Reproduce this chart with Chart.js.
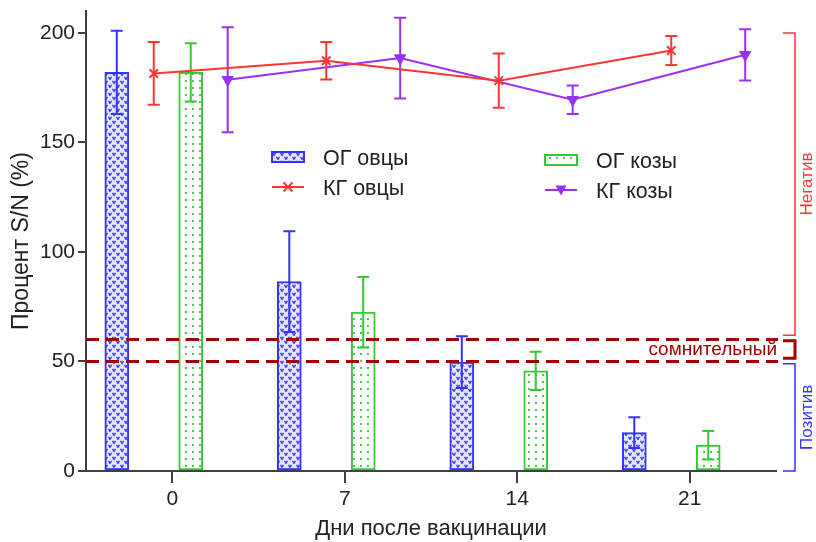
<!DOCTYPE html>
<html lang="ru">
<head>
<meta charset="UTF-8" />
<title>Процент S/N</title>
<script src="https://cdn.jsdelivr.net/npm/chart.js"></script>
<style>
  body { margin: 0; background: #fff; }
</style>
</head>
<body>
<canvas id="snChart" width="816" height="542"></canvas>
<script>
  // Дни после вакцинации и деления оси Y
  const days = [0, 7, 14, 21];
  const yTicks = [0, 50, 100, 150, 200];

  // ОГ – опытные группы (столбцы), КГ – контрольные группы (линии); среднее и SD
  const ogSheep = [182, 86.5, 49.7, 17.5];
  const ogSheepSd = [19, 23, 11.8, 7];
  const kgSheep = [181.5, 187.3, 178.2, 192];
  const kgSheepSd = [14.3, 8.6, 12.4, 6.6];
  const ogGoats = [182, 72.5, 45.7, 11.8];
  const ogGoatsSd = [13.3, 16.1, 8.7, 6.5];
  const kgGoats = [178.6, 188.5, 169.5, 190];
  const kgGoatsSd = [24, 18.4, 6.5, 11.7];

  // пороги интерпретации
  const cutoffs = [50, 60];
  const zoneNames = ["Негатив", "сомнительный", "Позитив"];
  const zoneFrom = [62, 51.5, 0];
  const zoneTo = [200, 59.5, 49];

  const BLUE = "#3434ff";
  const RED = "#ff3434";
  const GREEN = "#36c936";
  const VIOLET = "#9b30f5";
  const DARKRED = "#a30000";
  const AXIS = "#404040";
  const FONT = "'Liberation Sans', Arial, sans-serif";

  // каждая серия занимает свою позицию внутри дня (шаг 1.5 дня)
  const slotWidth = 1.5;
  const at = (slot, values) =>
    days.map((d, i) => ({ x: d + (slot - 1.5) * slotWidth, y: values[i] }));

  function makePattern(size, draw) {
    const c = document.createElement("canvas");
    c.width = c.height = size;
    const g = c.getContext("2d");
    draw(g);
    return g.createPattern(c, "repeat");
  }

  // штриховка столбцов: «галочки» для овец, точки для коз
  const sheepFill = makePattern(8, (g) => {
    g.fillStyle = "#e4e6ff";
    g.fillRect(0, 0, 8, 8);
    g.strokeStyle = "#3c3cff";
    g.lineWidth = 1.4;
    g.beginPath();
    g.moveTo(0.5, 0.8); g.lineTo(2, 3.4); g.lineTo(3.5, 0.8);
    g.moveTo(4.5, 4.8); g.lineTo(6, 7.4); g.lineTo(7.5, 4.8);
    g.stroke();
  });

  const goatFill = makePattern(7, (g) => {
    g.fillStyle = "#ffffff";
    g.fillRect(0, 0, 7, 7);
    g.fillStyle = "#52c852";
    g.fillRect(3, 3, 2, 2);
  });

  // вертикальные планки погрешностей (±SD)
  const errorBars = {
    id: "errorBars",
    afterDatasetDraw(chart, args) {
      const ds = chart.data.datasets[args.index];
      if (!ds.errors) return;
      const y = chart.scales.y;
      const ctx = chart.ctx;
      ctx.save();
      ctx.strokeStyle = ds.borderColor;
      ctx.lineWidth = 2;
      args.meta.data.forEach((el, i) => {
        const v = ds.data[i].y;
        const top = y.getPixelForValue(v + ds.errors[i]);
        const bot = y.getPixelForValue(v - ds.errors[i]);
        ctx.beginPath();
        ctx.moveTo(el.x, top); ctx.lineTo(el.x, bot);
        ctx.moveTo(el.x - 6, top); ctx.lineTo(el.x + 6, top);
        ctx.moveTo(el.x - 6, bot); ctx.lineTo(el.x + 6, bot);
        ctx.stroke();
      });
      ctx.restore();
    },
  };

  // пунктирные линии порогов
  const cutoffLines = {
    id: "cutoffLines",
    afterDatasetsDraw(chart) {
      const { ctx, chartArea: a, scales: { y } } = chart;
      ctx.save();
      ctx.strokeStyle = DARKRED;
      ctx.lineWidth = 3;
      ctx.setLineDash([13, 7]);
      cutoffs.forEach((c) => {
        const py = y.getPixelForValue(c);
        ctx.beginPath();
        ctx.moveTo(a.left, py);
        ctx.lineTo(a.right + 2, py);
        ctx.stroke();
      });
      ctx.restore();
    },
  };

  // скобки зон справа от графика
  const zoneBrackets = {
    id: "zoneBrackets",
    afterDraw(chart) {
      const { ctx, chartArea: a, scales: { y } } = chart;
      const colors = [RED, DARKRED, BLUE];
      const x = a.right + 19;
      ctx.save();
      zoneNames.forEach((name, i) => {
        const top = y.getPixelForValue(zoneTo[i]);
        const bot = y.getPixelForValue(zoneFrom[i]);
        const mid = (top + bot) / 2;
        ctx.strokeStyle = colors[i];
        ctx.lineWidth = i === 1 ? 3 : 1.5;
        ctx.beginPath();
        ctx.moveTo(x - 12, top); ctx.lineTo(x, top);
        ctx.lineTo(x, bot); ctx.lineTo(x - 12, bot);
        ctx.stroke();
        ctx.fillStyle = colors[i];
        ctx.textBaseline = "middle";
        if (i === 1) {
          ctx.font = "19px " + FONT;
          ctx.textAlign = "right";
          ctx.fillText(name, a.right + 1, mid);
        } else {
          ctx.font = "17px " + FONT;
          ctx.textAlign = "center";
          ctx.save();
          ctx.translate(x + 12, mid);
          ctx.rotate(-Math.PI / 2);
          ctx.fillText(name, 0, 0);
          ctx.restore();
        }
      });
      ctx.restore();
    },
  };

  // легенда в две колонки внутри области графика
  const groupLegend = {
    id: "groupLegend",
    afterDraw(chart) {
      const { ctx, chartArea: a } = chart;
      const items = [
        { ds: 2, col: 0, row: 0 },
        { ds: 0, col: 0, row: 1 },
        { ds: 3, col: 1, row: 0 },
        { ds: 1, col: 1, row: 1 },
      ];
      ctx.save();
      ctx.font = "21.5px " + FONT;
      ctx.textBaseline = "middle";
      ctx.textAlign = "left";
      items.forEach((it) => {
        const ds = chart.data.datasets[it.ds];
        const sx = a.left + (it.col ? 459 : 186);
        const sy = a.top + 146 + it.row * 30 + it.col * 3;
        if (ds.type === "bar") {
          ctx.fillStyle = ds.backgroundColor;
          ctx.fillRect(sx, sy - 5, 32, 10);
          ctx.strokeStyle = ds.borderColor;
          ctx.lineWidth = 2;
          ctx.strokeRect(sx, sy - 5, 32, 10);
        } else {
          ctx.strokeStyle = ds.borderColor;
          ctx.fillStyle = ds.borderColor;
          ctx.lineWidth = 2;
          ctx.beginPath();
          ctx.moveTo(sx, sy); ctx.lineTo(sx + 32, sy);
          ctx.stroke();
          const cx = sx + 16;
          ctx.beginPath();
          if (ds.pointStyle === "crossRot") {
            ctx.moveTo(cx - 4.5, sy - 4.5); ctx.lineTo(cx + 4.5, sy + 4.5);
            ctx.moveTo(cx + 4.5, sy - 4.5); ctx.lineTo(cx - 4.5, sy + 4.5);
            ctx.stroke();
          } else {
            ctx.moveTo(cx - 5.5, sy - 4.5); ctx.lineTo(cx + 5.5, sy - 4.5);
            ctx.lineTo(cx, sy + 5.5); ctx.closePath();
            ctx.fill();
          }
        }
        ctx.fillStyle = "#222";
        ctx.fillText(ds.label, sx + 51, sy + 2);
      });
      ctx.restore();
    },
  };

  new Chart(document.getElementById("snChart"), {
    data: {
      datasets: [
        {
          type: "line",
          label: "КГ овцы",
          data: at(1, kgSheep),
          errors: kgSheepSd,
          borderColor: RED,
          backgroundColor: RED,
          borderWidth: 2,
          pointStyle: "crossRot",
          pointRadius: 6,
          pointBorderWidth: 2,
          order: 0,
        },
        {
          type: "line",
          label: "КГ козы",
          data: at(3, kgGoats),
          errors: kgGoatsSd,
          borderColor: VIOLET,
          backgroundColor: VIOLET,
          borderWidth: 2,
          pointStyle: "triangle",
          pointRotation: 180,
          pointRadius: 6.5,
          pointBorderWidth: 1,
          order: 0,
        },
        {
          type: "bar",
          label: "ОГ овцы",
          data: at(0, ogSheep),
          errors: ogSheepSd,
          backgroundColor: sheepFill,
          borderColor: BLUE,
          borderWidth: 2,
          borderSkipped: false,
          barThickness: 24,
          grouped: false,
          order: 1,
        },
        {
          type: "bar",
          label: "ОГ козы",
          data: at(2, ogGoats),
          errors: ogGoatsSd,
          backgroundColor: goatFill,
          borderColor: GREEN,
          borderWidth: 2,
          borderSkipped: false,
          barThickness: 24,
          grouped: false,
          order: 1,
        },
      ],
    },
    options: {
      responsive: false,
      animation: false,
      layout: { padding: { top: 11, right: 40, left: 0, bottom: 0 } },
      plugins: {
        legend: { display: false },
        tooltip: { enabled: false },
      },
      scales: {
        x: {
          type: "linear",
          min: -3.5,
          max: 24.5,
          offset: false,
          afterBuildTicks: (s) => { s.ticks = days.map((v) => ({ value: v })); },
          afterFit: (s) => { s.height = 71; },
          grid: { offset: false, drawOnChartArea: false, drawTicks: true, tickLength: 12, color: AXIS, lineWidth: 2 },
          border: { display: true, color: AXIS, width: 2 },
          ticks: { color: "#222", padding: 4, font: { family: FONT, size: 21 } },
          title: {
            display: true,
            text: "Дни после вакцинации",
            color: "#222",
            padding: { top: 0, bottom: 0 },
            font: { family: FONT, size: 22 },
          },
        },
        y: {
          type: "linear",
          min: 0,
          max: 210,
          afterBuildTicks: (s) => { s.ticks = yTicks.map((v) => ({ value: v })); },
          afterFit: (s) => {
            s.width = 86;
            s.paddingTop = 0;
            s.paddingBottom = 0;
          },
          grid: { drawOnChartArea: false, drawTicks: true, tickLength: 8, color: AXIS, lineWidth: 2 },
          border: { display: true, color: AXIS, width: 2 },
          ticks: { color: "#222", padding: 3, font: { family: FONT, size: 21 } },
          title: {
            display: true,
            text: "Процент S/N (%)",
            color: "#222",
            padding: { top: 8, bottom: 0 },
            font: { family: FONT, size: 23 },
          },
        },
      },
    },
    plugins: [errorBars, cutoffLines, zoneBrackets, groupLegend],
  });
</script>
</body>
</html>
